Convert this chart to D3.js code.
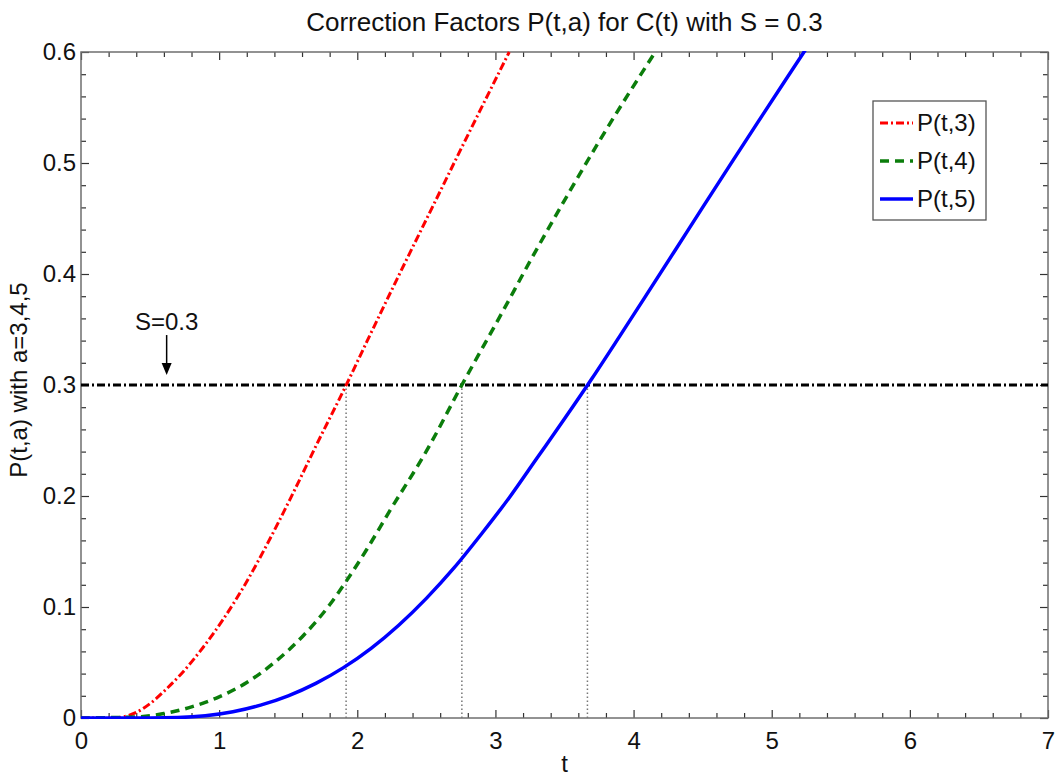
<!DOCTYPE html>
<html>
<head>
<meta charset="utf-8">
<script src="https://cdn.jsdelivr.net/npm/d3@7"></script>
<style>
  html, body { margin: 0; padding: 0; background: #fff; }
  svg { display: block; }
  text { font-family: "Liberation Sans", Arial, Helvetica, sans-serif; fill: #111; }
</style>
</head>
<body>
<svg id="chart" width="1058" height="778"></svg>
<script>
// ---------- data ----------
const seriesNames = ["P(t,3)", "P(t,4)", "P(t,5)"];

const tP3 = [0, 0.2, 0.3, 0.4, 0.5, 0.6, 0.72, 0.886, 1.03, 1.2, 1.345, 1.513, 1.72, 1.92, 2.069, 2.286, 2.527, 2.768, 3.10];
const vP3 = [0, 0, 0.001, 0.005, 0.013, 0.024, 0.039, 0.064, 0.089, 0.123, 0.156, 0.197, 0.250, 0.300, 0.339, 0.395, 0.456, 0.517, 0.600];

const tP4 = [0, 0.4, 0.6, 0.8, 1.0, 1.2, 1.4, 1.6, 1.8, 1.924, 2.069, 2.237, 2.503, 2.757, 3.034, 3.275, 3.517, 3.758, 4.157];
const vP4 = [0, 0.001, 0.004, 0.010, 0.019, 0.032, 0.050, 0.073, 0.102, 0.124, 0.152, 0.187, 0.241, 0.300, 0.362, 0.417, 0.470, 0.521, 0.600];

const tP5 = [0, 0.5, 0.7, 0.9, 1.1, 1.3, 1.5, 1.7, 1.9, 2.1, 2.3, 2.5, 2.7, 2.9, 3.1, 3.3, 3.5, 3.7, 3.9, 4.1, 4.3, 4.5, 4.7, 4.9, 5.1, 5.3];
const vP5 = [0, 0, 0.0004, 0.002, 0.0056, 0.0116, 0.0200, 0.0312, 0.0454, 0.0628, 0.0836, 0.1078, 0.1352, 0.1660, 0.1985, 0.2340, 0.2695, 0.3060, 0.3440, 0.3825, 0.4212, 0.4600, 0.4985, 0.5368, 0.5748, 0.6125];

const thresholdS = 0.3;
const crossingT = [1.919, 2.757, 3.666];

const xTicks = [0, 1, 2, 3, 4, 5, 6, 7];
const yTicks = [0, 0.1, 0.2, 0.3, 0.4, 0.5, 0.6];
const yTickLabels = ["0", "0.1", "0.2", "0.3", "0.4", "0.5", "0.6"];

const titleText = "Correction Factors P(t,a) for C(t) with S = 0.3";
const xLabel = "t";
const yLabel = "P(t,a) with a=3,4,5";
const annotText = "S=0.3";
const annotT = 0.62, annotTopP = 0.345, annotTipP = 0.309, annotTextP = 0.3495;

// ---------- layout ----------
const svg = d3.select("#chart");
const L = 81, R = 1048, T = 52, B = 718;
const x = d3.scaleLinear().domain([0, 7]).range([L, R]);
const y = d3.scaleLinear().domain([0, 0.6]).range([B, T]);

const styles = [
  { color: "#ff0000", width: 3, dash: "8,3,2,3" },
  { color: "#0b7d0b", width: 3.5, dash: "9,6" },
  { color: "#0000ff", width: 3.5, dash: null }
];
const series = [
  tP3.map((t, i) => ({ t, v: vP3[i] })),
  tP4.map((t, i) => ({ t, v: vP4[i] })),
  tP5.map((t, i) => ({ t, v: vP5[i] }))
];

svg.append("defs").append("clipPath").attr("id", "plotclip")
  .append("rect").attr("x", L).attr("y", T - 1).attr("width", R - L).attr("height", B - T + 2);

// axes box & ticks
const axisColor = "#6f6f6f";
function styleAxis(g) {
  g.select(".domain").remove();
  g.selectAll(".tick line").attr("stroke", "#333").attr("stroke-width", 1.2);
  g.selectAll(".tick text").attr("font-size", 24).attr("fill", "#111")
    .style("font-family", "'Liberation Sans', Arial, sans-serif");
}
const xMinor = d3.range(0, 7.0001, 0.2).map(d => +d.toFixed(2)).filter(d => !xTicks.includes(d));
const yMinor = d3.range(0, 0.6001, 0.02).map(d => +d.toFixed(3)).filter(d => !yTicks.some(t => Math.abs(t - d) < 1e-6));

// bottom
svg.append("g").attr("transform", `translate(0,${B})`)
  .call(d3.axisBottom(x).tickValues(xTicks).tickSize(-8).tickPadding(14).tickFormat(d3.format("d")))
  .call(styleAxis);
svg.append("g").attr("transform", `translate(0,${B})`)
  .call(d3.axisBottom(x).tickValues(xMinor).tickSize(-5).tickFormat(""))
  .call(styleAxis);
// top
svg.append("g").attr("transform", `translate(0,${T})`)
  .call(d3.axisTop(x).tickValues(xTicks).tickSize(-8).tickFormat(""))
  .call(styleAxis);
svg.append("g").attr("transform", `translate(0,${T})`)
  .call(d3.axisTop(x).tickValues(xMinor).tickSize(-5).tickFormat(""))
  .call(styleAxis);
// left
svg.append("g").attr("transform", `translate(${L},0)`)
  .call(d3.axisLeft(y).tickValues(yTicks).tickSize(-8).tickPadding(5).tickFormat((d, i) => yTickLabels[i]))
  .call(styleAxis);
svg.append("g").attr("transform", `translate(${L},0)`)
  .call(d3.axisLeft(y).tickValues(yMinor).tickSize(-5).tickFormat(""))
  .call(styleAxis);
// right
svg.append("g").attr("transform", `translate(${R},0)`)
  .call(d3.axisRight(y).tickValues(yTicks).tickSize(-8).tickFormat(""))
  .call(styleAxis);
svg.append("g").attr("transform", `translate(${R},0)`)
  .call(d3.axisRight(y).tickValues(yMinor).tickSize(-5).tickFormat(""))
  .call(styleAxis);

svg.append("rect").attr("x", L).attr("y", T).attr("width", R - L).attr("height", B - T)
  .attr("fill", "none").attr("stroke", axisColor).attr("stroke-width", 1.5);

// plot layer
const plot = svg.append("g").attr("clip-path", "url(#plotclip)");

// dotted verticals at crossings
plot.selectAll("line.cross").data(crossingT).join("line")
  .attr("class", "cross")
  .attr("x1", d => x(d)).attr("x2", d => x(d))
  .attr("y1", y(0)).attr("y2", y(thresholdS))
  .attr("stroke", "#777").attr("stroke-width", 1.5).attr("stroke-dasharray", "1.5,2.5");

// threshold line
plot.append("line")
  .attr("x1", x(0)).attr("x2", x(7)).attr("y1", y(thresholdS)).attr("y2", y(thresholdS))
  .attr("stroke", "#000").attr("stroke-width", 3).attr("stroke-dasharray", "8,3,2,3");

const line = d3.line().x(d => x(d.t)).y(d => y(d.v)).curve(d3.curveMonotoneX);
plot.selectAll("path.series").data(series).join("path")
  .attr("class", "series")
  .attr("d", line)
  .attr("fill", "none")
  .attr("stroke", (d, i) => styles[i].color)
  .attr("stroke-width", (d, i) => styles[i].width)
  .attr("stroke-dasharray", (d, i) => styles[i].dash);

// annotation arrow
const ax = x(annotT);
svg.append("line").attr("x1", ax).attr("x2", ax)
  .attr("y1", y(annotTopP)).attr("y2", y(annotTipP) - 10)
  .attr("stroke", "#000").attr("stroke-width", 1.5);
svg.append("path")
  .attr("d", `M${ax - 5},${y(annotTipP) - 12} L${ax + 5},${y(annotTipP) - 12} L${ax},${y(annotTipP)} Z`)
  .attr("fill", "#000");
svg.append("text").attr("x", ax).attr("y", y(annotTextP))
  .attr("text-anchor", "middle").attr("font-size", 24).text(annotText);

// legend
const lg = svg.append("g");
lg.append("rect").attr("x", 873).attr("y", 101).attr("width", 113).attr("height", 119)
  .attr("fill", "#fff").attr("stroke", "#555").attr("stroke-width", 1.3);
const legY = [123, 161, 199];
seriesNames.forEach((name, i) => {
  lg.append("line").attr("x1", 880).attr("x2", 913).attr("y1", legY[i]).attr("y2", legY[i])
    .attr("stroke", styles[i].color).attr("stroke-width", styles[i].width)
    .attr("stroke-dasharray", styles[i].dash);
  lg.append("text").attr("x", 917).attr("y", legY[i]).attr("dy", "0.35em")
    .attr("font-size", 24).text(name);
});

// title & labels
svg.append("text").attr("x", (L + R) / 2).attr("y", 31).attr("text-anchor", "middle")
  .attr("font-size", 26).text(titleText);
svg.append("text").attr("x", (L + R) / 2).attr("y", 772).attr("text-anchor", "middle")
  .attr("font-size", 24).text(xLabel);
svg.append("text").attr("transform", `translate(27,380) rotate(-90)`).attr("text-anchor", "middle")
  .attr("font-size", 24).text(yLabel);
</script>
</body>
</html>
